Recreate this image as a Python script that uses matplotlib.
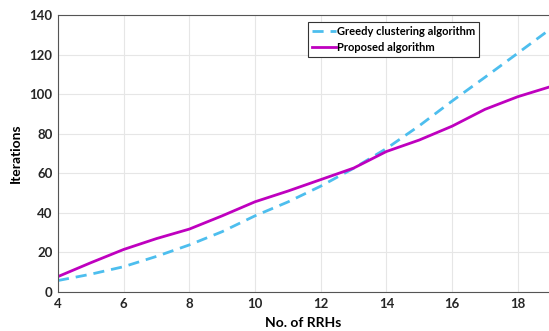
import numpy as np
import matplotlib
matplotlib.use("Agg")
from matplotlib import pyplot as plt

# number of RRHs vs iterations
rrhs = [4, 5, 6, 7, 8, 9, 10, 11, 12, 13, 14, 15, 16, 17, 18, 19]
greedy = [5.8, 9, 12.8, 18, 23.8, 30.5, 38.5, 45.5, 53.5, 62.5, 72.5, 84, 96.5, 108.5, 120.7, 133]
proposed = [7.8, 14.8, 21.5, 27, 31.8, 38.5, 45.6, 51, 56.8, 62.6, 71, 76.8, 83.8, 92.3, 98.7, 103.8]

plt.rcParams['font.family'] = ['Lato', 'DejaVu Sans']
plt.rcParams['font.weight'] = 'bold'

fig = plt.figure(figsize=(5.49, 3.31), dpi=100)
ax = fig.add_axes([0.1056, 0.1178, 0.8944, 0.837])

ax.plot(rrhs, greedy, '--', color='#4DBEEE', lw=2.0, dashes=(4, 2.5), label='Greedy clustering algorithm')
ax.plot(rrhs, proposed, '-', color='#BF00BF', lw=2.0, label='Proposed algorithm')

ax.set_xlim(4, 18.95)
ax.set_ylim(0, 140)
ax.set_xticks([4, 6, 8, 10, 12, 14, 16, 18])
ax.set_yticks([0, 20, 40, 60, 80, 100, 120, 140])
ax.grid(True, color='#e6e6e6', lw=0.8)
ax.set_axisbelow(True)
for s in ax.spines.values():
    s.set_color('#555555')
    s.set_linewidth(0.8)
ax.spines['right'].set_visible(False)
ax.tick_params(labelsize=9.5, colors='#262626', length=0, pad=4)
for lab in ax.get_xticklabels() + ax.get_yticklabels():
    lab.set_fontweight('bold')

ax.set_xlabel('No. of RRHs', fontsize=10, fontweight='bold', labelpad=5)
ax.set_ylabel('Iterations', fontsize=10, fontweight='bold', labelpad=5)

leg = ax.legend(loc='upper left', bbox_to_anchor=(0.509, 0.975), fontsize=8,
                handlelength=2.2, handletextpad=0.1, borderpad=0.35, labelspacing=0.45,
                fancybox=False, framealpha=1, borderaxespad=0)
leg.get_frame().set_edgecolor('#333333')
leg.get_frame().set_linewidth(0.8)

plt.savefig('out.png', dpi=100)
